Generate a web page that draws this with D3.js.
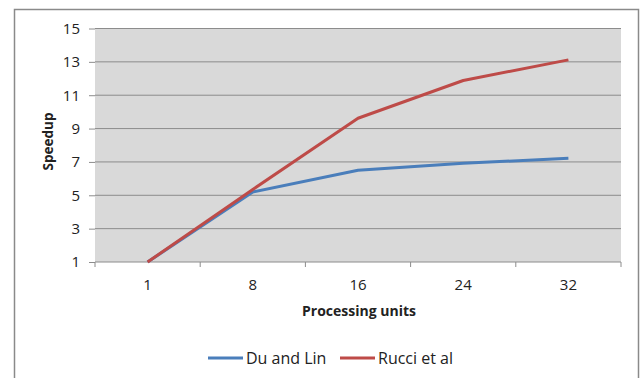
<!DOCTYPE html>
<html>
<head>
<meta charset="utf-8">
<script src="https://cdn.jsdelivr.net/npm/d3@7"></script>
<style>
  html, body { margin: 0; padding: 0; background: #fff; }
  svg { display: block; }
  text { font-family: "Open Sans", "Liberation Sans", sans-serif; fill: #222; }
</style>
</head>
<body>
<svg id="chart" width="642" height="378"></svg>
<script>
// Speedup per processing-unit count
const categories = ["1", "8", "16", "24", "32"];
const duAndLin = [1, 5.2, 6.5, 6.92, 7.22];
const rucciEtAl = [1, 5.35, 9.62, 11.88, 13.12];
const yTicks = [1, 3, 5, 7, 9, 11, 13, 15];
const seriesNames = ["Du and Lin", "Rucci et al"];
const seriesColors = ["#4a7ebb", "#be4b48"];

const svg = d3.select("#chart");
const W = 642, H = 378;
const plot = { left: 95, right: 621, top: 28.5, bottom: 262 };

// chart frame
svg.append("rect")
  .attr("x", 14.5).attr("y", 9.5)
  .attr("width", 624).attr("height", H)
  .attr("fill", "#fff").attr("stroke", "#8a8a8a").attr("stroke-width", 1.5);

const x = d3.scaleBand().domain(categories).range([plot.left, plot.right]).padding(0);
const y = d3.scaleLinear().domain([1, 15]).range([plot.bottom, plot.top]);

// plot area background
svg.append("rect")
  .attr("x", plot.left).attr("y", plot.top)
  .attr("width", plot.right - plot.left).attr("height", plot.bottom - plot.top)
  .attr("fill", "#d9d9d9");

// horizontal gridlines + y axis
const yAxis = d3.axisLeft(y).tickValues(yTicks).tickSize(6).tickPadding(9);
const gy = svg.append("g").attr("transform", `translate(${plot.left},0)`).call(yAxis);
gy.select(".domain").remove();
gy.selectAll(".tick line").attr("stroke", "#8c8c8c");
gy.selectAll(".tick text").style("font-size", "15px").attr("fill", "#222");
svg.append("g").selectAll("line").data(yTicks.slice(1)).join("line")
  .attr("x1", plot.left).attr("x2", plot.right)
  .attr("y1", d => y(d)).attr("y2", d => y(d))
  .attr("stroke", "#8c8c8c").attr("stroke-width", 1);

// x axis with boundary ticks between categories
const gx = svg.append("g").attr("transform", `translate(0,${plot.bottom})`);
gx.append("line").attr("x1", plot.left).attr("x2", plot.right)
  .attr("stroke", "#8c8c8c");
const bounds = categories.map(c => x(c)).concat([x(categories[categories.length - 1]) + x.bandwidth()]);
gx.selectAll(".bt").data(bounds).join("line").attr("class", "bt")
  .attr("x1", d => d).attr("x2", d => d).attr("y1", 0).attr("y2", 5)
  .attr("stroke", "#8c8c8c");
gx.selectAll(".lbl").data(categories).join("text").attr("class", "lbl")
  .attr("x", d => x(d) + x.bandwidth() / 2).attr("y", 28)
  .attr("text-anchor", "middle").style("font-size", "15px").text(d => d);

// axis titles
svg.append("text").attr("x", 359).attr("y", 316).attr("text-anchor", "middle")
  .style("font-size", "14px").style("font-weight", "bold").text("Processing units");
svg.append("text").attr("transform", "translate(53,141.5) rotate(-90)")
  .attr("text-anchor", "middle").style("font-size", "13.5px").style("font-weight", "bold")
  .text("Speedup");

// series lines
const line = d3.line().x((d, i) => x(categories[i]) + x.bandwidth() / 2).y(d => y(d));
[duAndLin, rucciEtAl].forEach((vals, i) => {
  svg.append("path").datum(vals).attr("d", line)
    .attr("fill", "none").attr("stroke", seriesColors[i]).attr("stroke-width", 3)
    .attr("stroke-linejoin", "round");
});

// legend
const legendItems = [{ x: 208, tx: 246 }, { x: 340, tx: 378 }];
legendItems.forEach((p, i) => {
  svg.append("line").attr("x1", p.x).attr("x2", p.x + 35).attr("y1", 358).attr("y2", 358)
    .attr("stroke", seriesColors[i]).attr("stroke-width", 3);
  svg.append("text").attr("x", p.tx).attr("y", 364).style("font-size", "16px").text(seriesNames[i]);
});
</script>
</body>
</html>
